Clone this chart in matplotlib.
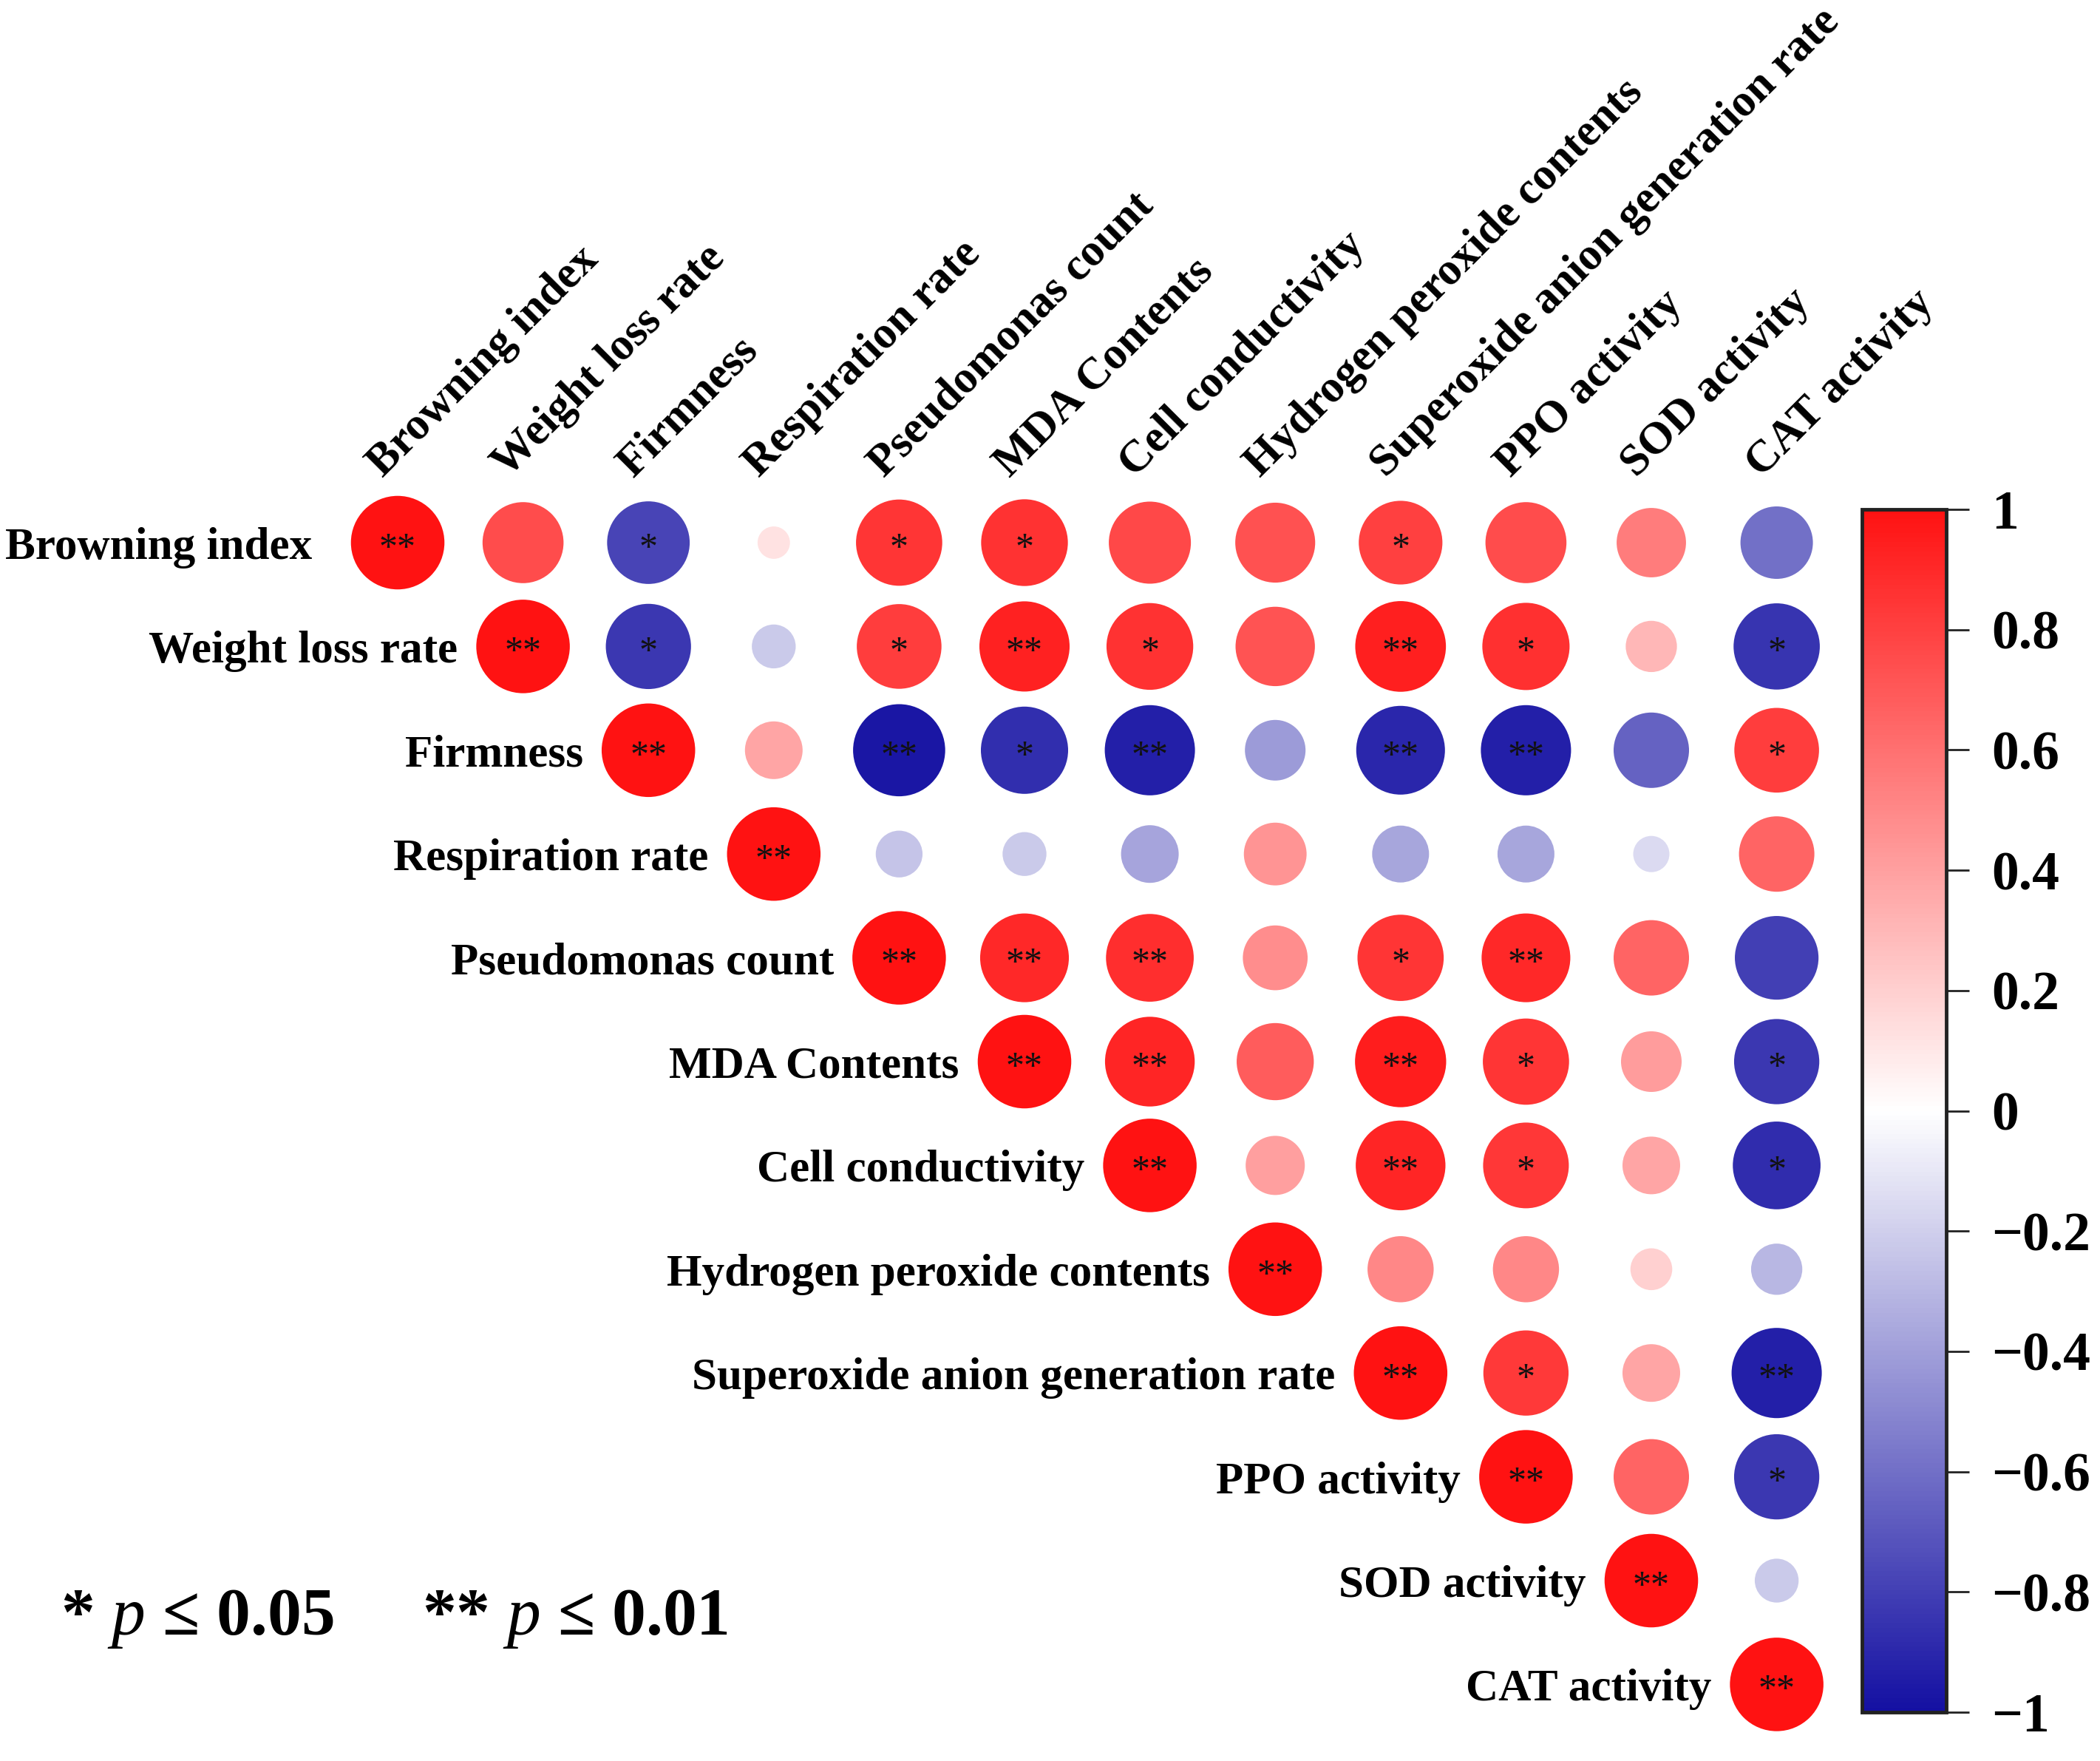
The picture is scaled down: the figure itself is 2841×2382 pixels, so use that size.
import numpy as np
import matplotlib
matplotlib.use("Agg")
import matplotlib.pyplot as plt
from matplotlib.colors import LinearSegmentedColormap, Normalize
from matplotlib.cm import ScalarMappable

plt.rcParams['font.family'] = ['Liberation Serif', 'DejaVu Serif']
plt.rcParams['mathtext.fontset'] = 'custom'
plt.rcParams['mathtext.it'] = 'Liberation Serif:italic'
plt.rcParams['mathtext.rm'] = 'Liberation Serif'
plt.rcParams['mathtext.bf'] = 'Liberation Serif:bold'

labels = ["Browning index", "Weight loss rate", "Firmness", "Respiration rate",
          "Pseudomonas count", "MDA Contents", "Cell conductivity",
          "Hydrogen peroxide contents", "Superoxide anion generation rate",
          "PPO activity", "SOD activity", "CAT activity"]

# upper-triangle correlations (row i, columns i..11)
r_BI = [1, 0.75, -0.78, 0.12, 0.85, 0.86, 0.77, 0.73, 0.80, 0.75, 0.55, -0.60]
r_WL = [1, -0.83, -0.22, 0.82, 0.93, 0.86, 0.72, 0.94, 0.87, 0.30, -0.85]
r_F = [1, 0.38, -0.97, -0.87, -0.93, -0.42, -0.90, -0.93, -0.65, 0.82]
r_RR = [1, -0.25, -0.22, -0.38, 0.45, -0.37, -0.37, -0.15, 0.65]
r_PC = [1, 0.90, 0.88, 0.48, 0.85, 0.90, 0.65, -0.80]
r_MDA = [1, 0.92, 0.68, 0.95, 0.85, 0.42, -0.83]
r_CC = [1, 0.40, 0.92, 0.84, 0.38, -0.88]
r_HP = [1, 0.50, 0.50, 0.20, -0.30]
r_SA = [1, 0.83, 0.38, -0.93]
r_PPO = [1, 0.65, -0.83]
r_SOD = [1, -0.22]
r_CAT = [1]

s_BI = ['**', '', '*', '', '*', '*', '', '', '*', '', '', '']
s_WL = ['**', '*', '', '*', '**', '*', '', '**', '*', '', '*']
s_F = ['**', '', '**', '*', '**', '', '**', '**', '', '*']
s_RR = ['**', '', '', '', '', '', '', '', '']
s_PC = ['**', '**', '**', '', '*', '**', '', '']
s_MDA = ['**', '**', '', '**', '*', '', '*']
s_CC = ['**', '', '**', '*', '', '*']
s_HP = ['**', '', '', '', '']
s_SA = ['**', '*', '', '**']
s_PPO = ['**', '', '*']
s_SOD = ['**', '']
s_CAT = ['**']

cbar_ticks = [-1, -0.8, -0.6, -0.4, -0.2, 0, 0.2, 0.4, 0.6, 0.8, 1]
cbar_ticklabels = ["\u22121", "\u22120.8", "\u22120.6", "\u22120.4", "\u22120.2", "0",
                   "0.2", "0.4", "0.6", "0.8", "1"]

rows_r = [r_BI, r_WL, r_F, r_RR, r_PC, r_MDA, r_CC, r_HP, r_SA, r_PPO, r_SOD, r_CAT]
rows_s = [s_BI, s_WL, s_F, s_RR, s_PC, s_MDA, s_CC, s_HP, s_SA, s_PPO, s_SOD, s_CAT]

cmap = LinearSegmentedColormap.from_list("bwr2", ["#1410A2", "#FFFFFF", "#FF1212"])
norm = Normalize(-1, 1)

W, H = 2841, 2382
fig = plt.figure(figsize=(W / 100, H / 100), dpi=100)

# main matrix axes
ax = fig.add_axes([453.2 / W, 33.4 / H, 2035.2 / W, 1684.8 / H])
ax.set_xlim(-0.5, 11.5)
ax.set_ylim(11.5, -0.5)
ax.axis('off')

xs, ys, vs, sig = [], [], [], []
for i, (rr, ss) in enumerate(zip(rows_r, rows_s)):
    for k, (v, s) in enumerate(zip(rr, ss)):
        xs.append(i + k)
        ys.append(i)
        vs.append(v)
        sig.append(s)
xs = np.array(xs); ys = np.array(ys); vs = np.array(vs)

smax = 8300.0
ax.scatter(xs, ys, s=np.abs(vs) * smax, c=vs, cmap=cmap, norm=norm,
           edgecolors='none', zorder=2)

for x, y, s in zip(xs, ys, sig):
    if s:
        ax.annotate(s, (x, y), xytext=(0, -15), textcoords='offset points',
                    ha='center', va='baseline', fontsize=36, color='#111111', zorder=3)

# row labels
for i, lab in enumerate(labels):
    off = 0.68 if i == 0 else 0.52
    ax.annotate(lab, (i - off, i), xytext=(0, -5), textcoords='offset points',
                ha='right', va='center', fontsize=44, fontweight='bold', color='black',
                annotation_clip=False)

# column labels
for i, lab in enumerate(labels):
    ax.text(i - 0.12, -0.62, lab, rotation=45, rotation_mode='anchor',
            ha='left', va='baseline', fontsize=44, fontweight='bold', color='black',
            clip_on=False)

# colorbar
cax = fig.add_axes([2519 / W, (H - 2316) / H, 114 / W, 1627 / H])
sm = ScalarMappable(norm=norm, cmap=cmap)
cb = fig.colorbar(sm, cax=cax, ticks=cbar_ticks)
cb.set_ticklabels(cbar_ticklabels)
cb.outline.set_linewidth(3.5)
cb.outline.set_edgecolor('#222222')
cax.tick_params(axis='y', length=22, width=2, pad=22, labelsize=53, color='#222222')
for t in cax.get_yticklabels():
    t.set_fontweight('bold')

# significance legend
fig.text(82 / W, (H - 2190) / H, "* $\\mathit{p}$ \u2264 0.05",
         ha='left', va='center', fontsize=66, fontweight='bold')
fig.text(571 / W, (H - 2190) / H, "** $\\mathit{p}$ \u2264 0.01",
         ha='left', va='center', fontsize=66, fontweight='bold')

fig.savefig("out.png", dpi=100, facecolor='white')
